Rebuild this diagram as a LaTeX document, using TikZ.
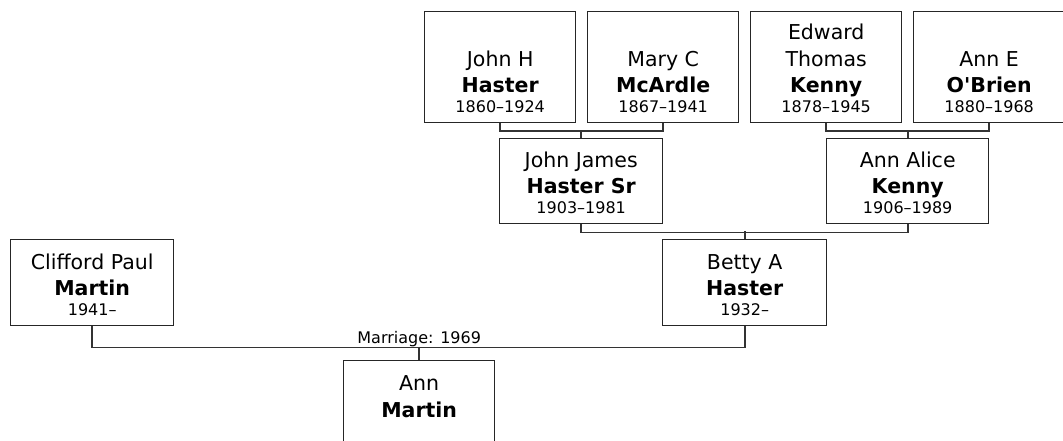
\documentclass[tikz,border=0pt]{standalone}
\usepackage{fontspec}
\setmainfont{DejaVu Sans}[Ligatures=TeXOff]
% one person: box height, given names, surname, dates
\newcommand{\who}[4]{\parbox[c][#1][b]{140pt}{\centering
  \fontsize{20.5pt}{26.6pt}\selectfont #2\\\textbf{#3}\par
  \fontsize{16pt}{19.4pt}\selectfont\mbox{}#4\par\vspace{10.3pt}}}
\begin{document}
\begin{tikzpicture}[x=1pt, y=-1pt,
  person/.style={draw=black!85, line width=1.4pt, fill=white, inner sep=0pt, anchor=north west},
  link/.style={draw=black!80, line width=1.8pt}]
\useasboundingbox (0,0) rectangle (1063,441);
\clip (0,0) rectangle (1063,441);
% grandparents
\node[person, minimum width=151pt] (jhh) at (424,11) {\who{111pt}{John H}{Haster}{1860–1924}};
\node[person, minimum width=151pt] (mcm) at (587,11) {\who{111pt}{Mary C}{McArdle}{1867–1941}};
\node[person, minimum width=151pt] (etk) at (750,11) {\who{111pt}{Edward\\Thomas}{Kenny}{1878–1945}};
\node[person, minimum width=151pt] (aeo) at (913,11) {\who{111pt}{Ann E}{O'Brien}{1880–1968}};
% parents of Betty
\node[person, minimum width=163pt] (jjh) at (499,138) {\who{85pt}{John James}{Haster Sr}{1903–1981}};
\node[person, minimum width=162pt] (aak) at (826,138) {\who{85pt}{Ann Alice}{Kenny}{1906–1989}};
% couple
\node[person, minimum width=163pt] (cpm) at (10,239) {\who{86pt}{Clifford Paul}{Martin}{1941–}};
\node[person, minimum width=164pt] (bah) at (662,239) {\who{86pt}{Betty A}{Haster}{1932–}};
% child
\node[person, minimum width=151pt] (anm) at (343,360) {\who{86pt}{Ann}{Martin}{}};
% links
\draw[link] (jhh.south) -- ++(0,8) -| (mcm.south);
\draw[link] (jjh.north) -- ++(0,-8);
\draw[link] (etk.south) -- ++(0,8) -| (aeo.south);
\draw[link] (aak.north) -- ++(0,-8);
\draw[link] (jjh.south) -- ++(0,8) -| (aak.south);
\draw[link] (bah.north) -- ++(0,-8);
\draw[link] (cpm.south) -- ++(0,21) coordinate (wed) -| (bah.south);
\draw[link] (anm.north) -- (anm.north |- wed);
\node[anchor=base, inner sep=0pt, font=\fontsize{16pt}{19pt}\selectfont] (wedlbl) at ([yshift=4pt]anm.north |- wed) {Marriage: 1969};
\end{tikzpicture}
\end{document}
